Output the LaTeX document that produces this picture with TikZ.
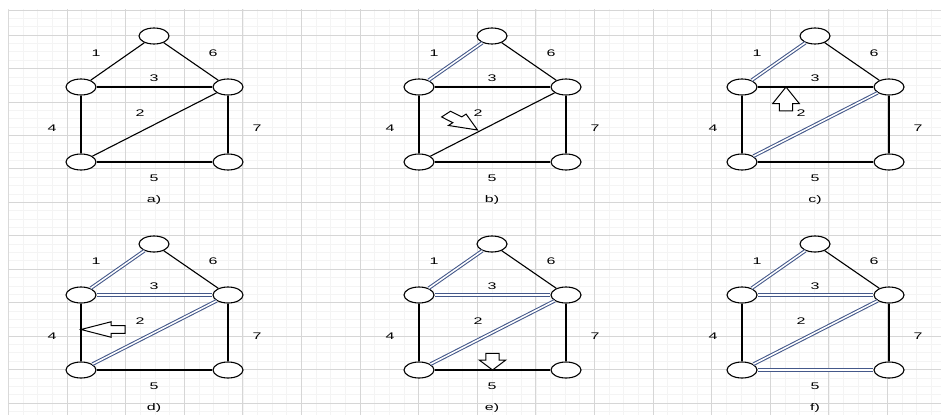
\documentclass[tikz,border=0pt]{standalone}
\usepackage{fontspec}
\setmainfont{Liberation Sans}
\usepackage{graphicx}
\usetikzlibrary{shapes.geometric}
\definecolor{gridmin}{RGB}{244,244,244}
\definecolor{gridmaj}{RGB}{214,214,214}
\definecolor{hl}{RGB}{68,88,138}
\tikzset{
  vtx/.style={ellipse, draw=black, fill=white, line width=1.1pt, minimum width=30pt, minimum height=16pt, inner sep=0pt},
  ln/.style={draw=black, line width=1.1pt},
  sel/.style={draw=hl, line width=1.05pt, double=white, double distance=1.5pt},
  lbl/.style={inner sep=0pt, font=\fontsize{16}{16}\selectfont},
  blk/.style={draw=black, fill=white, line width=1pt, line join=miter},
  gmin/.style={draw=gridmin, line width=0.6pt},
  gmaj/.style={draw=gridmaj, line width=0.7pt}
}
\newcommand{\sq}[1]{\scalebox{1}[0.6]{#1}}
% nodes and labels of one panel: prefix, x offset, y offset, caption
\newcommand{\housenodes}[4]{%
  \begin{scope}[shift={(#2,#3)}]
    \node[vtx] (#1t)  at (154,36)  {};
    \node[vtx] (#1l)  at (81,87)   {};
    \node[vtx] (#1r)  at (228,87)  {};
    \node[vtx] (#1bl) at (81,162)  {};
    \node[vtx] (#1br) at (228,162) {};
    \node[lbl] (#1n1) at (96,53)   {\sq{1}};
    \node[lbl] (#1n6) at (213,53)  {\sq{6}};
    \node[lbl] (#1n3) at (154,78)  {\sq{3}};
    \node[lbl] (#1n2) at (140,113) {\sq{2}};
    \node[lbl] (#1n4) at (52,128)  {\sq{4}};
    \node[lbl] (#1n7) at (257,128) {\sq{7}};
    \node[lbl] (#1n5) at (154,178) {\sq{5}};
    \node[lbl] (#1cap) at (154,200) {\sq{#4}};
  \end{scope}}
% edges of one panel: prefix, styles of edges 1..7
\newcommand{\houseedges}[8]{%
  \draw[#2] (#1t) -- (#1l);
  \draw[#3] (#1bl) -- (#1r);
  \draw[#4] (#1l) -- (#1r);
  \draw[#5] (#1l) -- (#1bl);
  \draw[#6] (#1bl) -- (#1br);
  \draw[#7] (#1t) -- (#1r);
  \draw[#8] (#1r) -- (#1br);}
% block arrow: tip x, tip y, angle, total length, head length, head half width, shaft half width
\newcommand{\blockarr}[7]{%
  \draw[blk, shift={(#1,#2)}, yscale=0.571, rotate=#3]
    (0,0) -- (-#5,#6) -- (-#5,#7) -- (-#4,#7) -- (-#4,-#7) -- (-#5,-#7) -- (-#5,-#6) -- cycle;}
\begin{document}
\begin{tikzpicture}[x=1pt,y=-1pt]
\useasboundingbox (0,0) rectangle (941,415);
\fill[white] (0,0) rectangle (941,415);
% grid
\begin{scope}
  \clip (8.4,9.9) rectangle (941,415);
  \foreach \i in {0,...,64} \draw[gmin] ({8.4+14.65*\i},0) -- ({8.4+14.65*\i},415);
  \foreach \i in {0,...,49} \draw[gmin] (0,{9.9+8.3625*\i}) -- (941,{9.9+8.3625*\i});
  \foreach \i in {0,...,16} \draw[gmaj] ({8.4+58.6*\i},0) -- ({8.4+58.6*\i},415);
  \foreach \i in {0,...,11} \draw[gmaj] (0,{35+33.45*\i}) -- (941,{35+33.45*\i});
  \draw[gmaj] (8.4,415) -- (8.4,9.9) -- (941,9.9);
\end{scope}
% panels
\housenodes{a}{0}{0}{a)}
\housenodes{b}{338}{0}{b)}
\housenodes{c}{661}{0}{c)}
\housenodes{d}{0}{208}{d)}
\housenodes{e}{338}{208}{e)}
\housenodes{f}{661}{208}{f)}
\houseedges{a}{ln}{ln}{ln}{ln}{ln}{ln}{ln}
\houseedges{b}{sel}{ln}{ln}{ln}{ln}{ln}{ln}
\houseedges{c}{sel}{sel}{ln}{ln}{ln}{ln}{ln}
\houseedges{d}{sel}{sel}{sel}{ln}{ln}{ln}{ln}
\houseedges{e}{sel}{sel}{sel}{ln}{ln}{ln}{ln}
\houseedges{f}{sel}{sel}{sel}{ln}{sel}{ln}{ln}
% pointer arrows
\blockarr{477.5}{130}{-41.5}{42}{27}{13.3}{6.7}
\blockarr{786}{87}{90}{42}{29}{13.3}{6.7}
\blockarr{81}{329.5}{180}{44}{30}{13.5}{6.7}
\blockarr{492.5}{370}{-90}{29}{17.5}{13.3}{6.7}
\end{tikzpicture}
\end{document}
